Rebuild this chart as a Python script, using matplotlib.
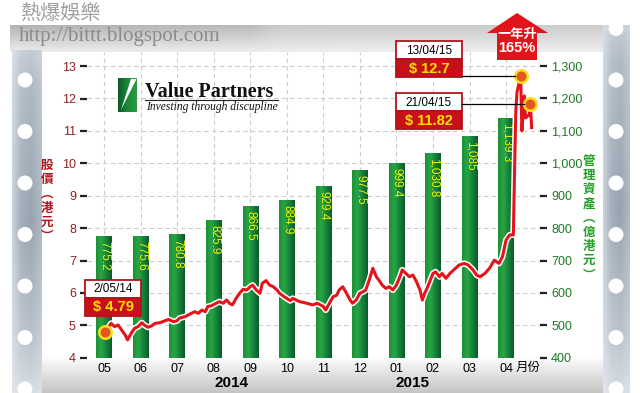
import matplotlib
matplotlib.use('Agg')
import matplotlib.pyplot as plt
import matplotlib.patheffects as pe
from matplotlib.patches import Rectangle, Polygon, Circle
from matplotlib.colors import LinearSegmentedColormap, to_rgb
from matplotlib.ticker import FuncFormatter
from matplotlib import font_manager
import numpy as np
import pandas as pd

# ---- data ----
months = ['05', '06', '07', '08', '09', '10', '11', '12', '01', '02', '03', '04']
month_start = ['2014-05-01', '2014-06-01', '2014-07-01', '2014-08-01', '2014-09-01', '2014-10-01',
               '2014-11-01', '2014-12-01', '2015-01-01', '2015-02-01', '2015-03-01', '2015-04-01']
aum = [775.2, 775.6, 780.8, 825.9, 866.5, 884.9, 929.4, 977.5, 999.4, 1030.8, 1085, 1139.3]
aum_labels = ['775.2', '775.6', '780.8', '825.9', '866.5', '884.9', '929.4', '977.5',
              '999.4', '1,030.8', '1,085', '1,139.3']

price_dates = [
    '2014-05-02', '2014-05-07', '2014-05-10', '2014-05-13', '2014-05-16', '2014-05-19', '2014-05-21',
    '2014-05-24', '2014-05-27', '2014-05-30', '2014-06-02', '2014-06-04', '2014-06-07', '2014-06-10',
    '2014-06-13', '2014-06-17', '2014-06-21', '2014-06-24', '2014-06-28', '2014-07-01', '2014-07-03',
    '2014-07-08', '2014-07-12', '2014-07-16', '2014-07-19', '2014-07-22', '2014-07-25', '2014-07-27',
    '2014-07-30', '2014-08-03', '2014-08-06', '2014-08-09', '2014-08-12', '2014-08-15', '2014-08-17',
    '2014-08-20', '2014-08-23', '2014-08-26', '2014-08-29', '2014-09-01', '2014-09-03', '2014-09-06',
    '2014-09-09', '2014-09-11', '2014-09-14', '2014-09-17', '2014-09-20', '2014-09-23', '2014-09-25',
    '2014-09-29', '2014-10-04', '2014-10-06', '2014-10-09', '2014-10-12', '2014-10-18', '2014-10-23',
    '2014-10-27', '2014-11-01', '2014-11-03', '2014-11-06', '2014-11-09', '2014-11-12', '2014-11-14',
    '2014-11-17', '2014-11-20', '2014-11-23', '2014-11-25', '2014-11-28', '2014-12-01', '2014-12-04',
    '2014-12-06', '2014-12-09', '2014-12-12', '2014-12-15', '2014-12-18', '2014-12-20', '2014-12-23',
    '2014-12-26', '2014-12-29', '2015-01-01', '2015-01-04', '2015-01-06', '2015-01-09', '2015-01-12',
    '2015-01-15', '2015-01-18', '2015-01-21', '2015-01-23', '2015-01-25', '2015-01-27', '2015-02-01',
    '2015-02-03', '2015-02-06', '2015-02-08', '2015-02-11', '2015-02-14', '2015-02-17', '2015-02-21',
    '2015-02-25', '2015-02-28', '2015-03-04', '2015-03-07', '2015-03-10', '2015-03-14', '2015-03-18',
    '2015-03-22', '2015-03-26', '2015-03-29', '2015-04-01', '2015-04-04', '2015-04-07', '2015-04-08',
    '2015-04-09', '2015-04-10', '2015-04-13', '2015-04-14', '2015-04-15', '2015-04-16', '2015-04-17',
    '2015-04-20', '2015-04-21', '2015-04-22']
price_values = [
    4.79, 5.06, 4.96, 5.01, 4.85, 4.70, 4.55,
    4.75, 4.91, 4.96, 5.08, 5.01, 4.94, 4.98,
    5.06, 5.08, 5.14, 5.18, 5.11, 5.14, 5.22,
    5.27, 5.35, 5.42, 5.37, 5.47, 5.42, 5.58,
    5.60, 5.68, 5.73, 5.68, 5.78, 5.66, 5.63,
    5.83, 5.99, 6.11, 6.09, 6.19, 6.24, 6.09,
    5.99, 6.30, 6.38, 6.24, 6.19, 6.09, 5.99,
    5.88, 5.76, 5.83, 5.78, 5.73, 5.68, 5.63,
    5.68, 5.58, 5.47, 5.68, 5.88, 5.93, 6.09,
    6.19, 5.99, 5.78, 5.68, 5.78, 5.99, 6.04,
    6.09, 6.40, 6.76, 6.50, 6.35, 6.24, 6.14,
    6.19, 6.09, 6.24, 6.50, 6.71, 6.60, 6.50,
    6.55, 6.35, 6.09, 5.78, 5.99, 6.14, 6.60,
    6.65, 6.50, 6.60, 6.45, 6.60, 6.71, 6.86,
    6.91, 6.86, 6.71, 6.55, 6.50, 6.60, 6.76,
    7.01, 6.91, 7.12, 7.63, 7.79, 7.79, 9.80,
    11.6, 12.2, 12.7, 11.0, 11.5, 12.08, 11.4,
    11.5, 11.82, 11.1]

callout_dates = ['2014-05-02', '2015-04-13', '2015-04-21']
callout_values = [4.79, 12.7, 11.82]
callout_day = ['2/05/14', '13/04/15', '21/04/15']
callout_price = ['$ 4.79', '$ 12.7', '$ 11.82']
# box left, top, width in pixels (layout)
callout_box = [(85, 280, 56), (396, 41, 66), (396, 93, 66)]

years = ['2014', '2015']
year_pos = [3.5, 8.45]


def month_pos(dates):
    d = pd.to_datetime(pd.Series(dates))
    return ((d.dt.year - 2014) * 12 + d.dt.month - 5 + (d.dt.day - 1) / d.dt.days_in_month).to_numpy()


names = {f.name for f in font_manager.fontManager.ttflist}
narrow = 'Liberation Sans Narrow' if 'Liberation Sans Narrow' in names else 'Liberation Sans'
cjk = ['Noto Sans CJK TC', 'DejaVu Sans']
plt.rcParams['font.family'] = ['Liberation Sans', 'Noto Sans CJK TC', 'DejaVu Sans']

W, H = 640, 393
fig = plt.figure(figsize=(W / 100, H / 100), dpi=100)

# ---- background frame (pixel coordinates) ----
bg = fig.add_axes([0, 0, 1, 1], zorder=0)
bg.axis('off')


def ramp(c0, c1, t):
    a, b = np.array(to_rgb(c0)), np.array(to_rgb(c1))
    return a + (b - a) * t[..., None]


def strip(x0, x1, y0, y1):
    nx, ny = 40, 200
    ax_t = np.interp(np.linspace(0, 1, nx), [0, 0.3, 0.65, 1], [0.35, 0.85, 1.0, 0.7])
    vy = np.linspace(0, 1, ny)
    vt = np.interp(vy, [0, 0.1, 0.5, 0.85, 1], [0.45, 0.7, 1.0, 0.55, 0.2])
    img = ramp('#e6ebf0', '#97a3b0', vt[:, None] * ax_t[None, :])
    bg.imshow(img, extent=[x0, x1, y1, y0], aspect='auto', zorder=1)


# bottom band
tb = np.linspace(0, 1, 60)[:, None] * np.ones((1, 4))
bg.imshow(ramp('#ffffff', '#c4c4c4', np.clip((tb - 0.1) / 0.9, 0, 1)), extent=[42, 603, 393, 352],
          aspect='auto', zorder=1)
# top band
tv = np.linspace(1, 0.1, 30)[:, None]
th = np.interp(np.linspace(0, 1, 100), [0, 0.4, 0.45, 1], [1.0, 0.9, 0.65, 0.6])[None, :]
bg.imshow(ramp('#f2f2f2', '#b3b3b3', tv * th), extent=[10, 603, 52, 25], aspect='auto', zorder=1)
strip(12, 42, 50, 393)
strip(603, 630, 25, 393)
for hy in [80, 131.5, 183, 234.5, 286, 337.5, 389]:
    bg.add_patch(Circle((25, hy), 7.5, facecolor='white', edgecolor='none', zorder=3))
for hy in [28.5, 80, 131.5, 183, 234.5, 286, 337.5, 389]:
    bg.add_patch(Circle((616, hy), 7.5, facecolor='white', edgecolor='none', zorder=3))
bg.set_xlim(0, W)
bg.set_ylim(H, 0)

bg.text(20, 13, '熱爆娛樂', family=cjk, fontsize=14.5, color='#a0a0a0', va='center', ha='left')
bg.text(19, 36, 'http://bittt.blogspot.com', family='Liberation Serif', fontsize=15,
        color='#8c8c8c', va='center', ha='left')

# ---- main axes ----
left_px, right_px, top_px, bot_px = 87, 540, 52, 357.7
ax = fig.add_axes([left_px / W, (H - bot_px) / H, (right_px - left_px) / W, (bot_px - top_px) / H], zorder=2)
ax2 = ax.twinx()
ax2.set_zorder(1)
ax.patch.set_visible(False)
ax2.patch.set_visible(False)

xb = month_pos(month_start)
y2_top = 400 + (bot_px - top_px) / 0.324
grid_style = dict(color='#cccccc', linestyle=(0, (4, 3)), linewidth=0.8)
ax2.vlines(xb, 400, y2_top, zorder=0.5, **grid_style)
bars = ax2.bar(xb, aum, width=0.42, color='#1f8f3a', zorder=2)
bar_cmap = LinearSegmentedColormap.from_list('g', ['#1c9038', '#2aa544', '#15813a', '#0b5c2a'])
grad = np.linspace(0, 1, 64).reshape(1, -1)
for b in bars:
    ax2.imshow(grad, extent=[b.get_x(), b.get_x() + b.get_width(), b.get_y(), b.get_y() + b.get_height()],
               cmap=bar_cmap, aspect='auto', origin='lower', zorder=2.1)
for xp, v, lab in zip(xb, aum, aum_labels):
    ax2.annotate(lab, xy=(xp, v), xytext=(0.4, -3.5), textcoords='offset points', rotation=270,
                 ha='center', va='top', color='#f2f500', fontsize=8.5, zorder=3)

xp_price = month_pos(price_dates)
ax.plot(xp_price, price_values, color='#e3141b', lw=2.2, solid_joinstyle='round', zorder=4,
        path_effects=[pe.Stroke(linewidth=4.4, foreground='white'), pe.Normal()])
xc = month_pos(callout_dates)
ax.plot(xc, callout_values, 'o', ms=9, mfc='#e4571f', mec='#f6e01a', mew=1.8, zorder=5)

ax.set_xlim((left_px - 104) / 36.55, (right_px - 104) / 36.55)
ax.set_ylim(4, 4 + (bot_px - top_px) / 32.4)
ax2.set_ylim(400, y2_top)
ax.set_yticks(range(4, 14))
ax2.set_yticks(range(400, 1301, 100))
ax2.yaxis.set_major_formatter(FuncFormatter(lambda v, p: f'{v:,.0f}'))
ax.set_xticks(xb)
ax.set_xticklabels(months, family=narrow, fontsize=9)

for a in (ax, ax2):
    for s in a.spines.values():
        s.set_visible(False)
ax2.set_axisbelow(True)
ax2.grid(True, axis='y', **grid_style)
ax.tick_params(axis='x', length=0, pad=3.5)
ax.tick_params(axis='y', direction='out', length=5, width=1.6, color='#222222',
               labelcolor='#8e2323', labelsize=9, pad=3)
ax2.tick_params(axis='y', direction='out', length=5, width=1.6, color='#222222',
                labelcolor='#1f7a24', labelsize=9, pad=3)

ax.annotate('月份', xy=(xb[-1], 0), xycoords=('data', 'axes fraction'), xytext=(7, -2.5),
            textcoords='offset points', ha='left', va='top', family=cjk, fontsize=9)
for yr, pos in zip(years, year_pos):
    ax.annotate(yr, xy=(pos, 0), xycoords=('data', 'axes fraction'), xytext=(0, -13),
                textcoords='offset points', ha='center', va='top', fontsize=11, fontweight='bold')

# ---- overlay (pixel coordinates) ----
ov = fig.add_axes([0, 0, 1, 1], zorder=3)
ov.set_xlim(0, W)
ov.set_ylim(H, 0)
ov.axis('off')

ov.text(47, 201, '\n'.join('股價︵港元︶'), family=cjk, fontsize=9, fontweight='bold',
        color='#b3161c', ha='center', va='center', linespacing=1.12)
ov.text(589, 218, '\n'.join('管理資產︵億港元︶'), family=cjk, fontsize=9, fontweight='bold',
        color='#22a028', ha='center', va='center', linespacing=1.12)

to_px = ov.transData.inverted()
for (bl, bt, bw), dx, dy, dtxt, ptxt in zip(callout_box, xc, callout_values, callout_day, callout_price):
    ov.add_patch(Rectangle((bl, bt), bw, 18, facecolor='white', edgecolor='#b3121b', lw=1.3))
    ov.add_patch(Rectangle((bl, bt + 18), bw, 18, facecolor='#c8101a', edgecolor='#b3121b', lw=1.3))
    ov.text(bl + bw / 2, bt + 9.5, dtxt, ha='center', va='center', fontsize=8.5, color='black')
    ov.text(bl + bw / 2, bt + 27.5, ptxt, ha='center', va='center', fontsize=10.5,
            fontweight='bold', color='#ffe000')
    mx, my = to_px.transform(ax.transData.transform((dx, dy)))
    if mx - (bl + bw) > 12:
        ov.plot([bl + bw, mx - 6], [my, my], color='black', lw=0.9, zorder=1)

# rising arrow
ov.add_patch(Polygon([(517, 13), (548, 33), (537, 33), (537, 60), (497, 60), (497, 33), (487, 33)],
                     closed=True, facecolor='#e3131b', edgecolor='none'))
ov.text(517, 33.5, '一年升', family=cjk, fontsize=9.5, fontweight='bold', color='white',
        ha='center', va='center')
ov.text(517, 48, '165%', fontsize=10.5, fontweight='bold', color='white', ha='center', va='center')

# Value Partners logo
logo = np.linspace(0, 1, 32)[None, :] * np.ones((32, 1))
ov.imshow(logo, extent=[118, 137, 112, 78], cmap=LinearSegmentedColormap.from_list(
    'l', ['#0b5a28', '#1c8a3a', '#2a9a44']), aspect='auto', zorder=2)
ov.add_patch(Polygon([(121, 110), (131, 79), (136.5, 79)], closed=True, facecolor='white',
                     edgecolor='none', zorder=3))
ov.text(145, 97, 'Value Partners', family='Liberation Serif', fontsize=14.5, fontweight='bold',
        color='#111111', ha='left', va='baseline')
ov.plot([145, 278], [100, 100], color='#222222', lw=0.8)
ov.text(146, 110, 'Investing through discupline', family='Liberation Serif', fontsize=8.3,
        style='italic', color='#111111', ha='left', va='baseline')
ov.set_xlim(0, W)
ov.set_ylim(H, 0)

fig.savefig('out.png', dpi=100)
